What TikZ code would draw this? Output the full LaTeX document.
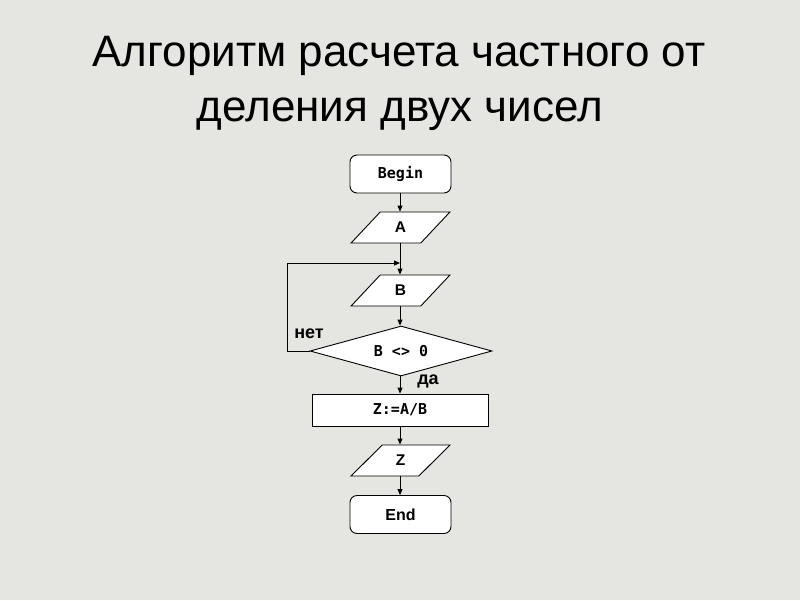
\documentclass[tikz,border=0pt]{standalone}
\usepackage{fontspec}
\setmainfont{Liberation Sans}
\setmonofont{DejaVu Sans Mono}
\usetikzlibrary{shapes.geometric,arrows.meta}
\definecolor{paper}{RGB}{229,229,225}
\tikzset{
  x=1pt,y=-1pt,
  box/.style={draw=black,line width=0.9pt,fill=white,minimum width=101pt,minimum height=38pt,inner sep=0pt,rounded corners=7pt},
  para/.style={draw=black,line width=0.9pt,fill=white,trapezium,trapezium left angle=53,trapezium right angle=127,minimum width=99pt,minimum height=31pt,trapezium stretches=true,inner sep=0pt},
  proc/.style={draw=black,line width=0.9pt,fill=white,minimum width=176pt,minimum height=32pt,inner sep=0pt},
  dec/.style={draw=black,line width=0.9pt,fill=white,diamond,aspect=3.64,minimum width=182pt,minimum height=50pt,inner sep=0pt},
  conn/.style={draw=black,line width=0.9pt,-{Triangle[length=6pt,width=5pt]}},
  mono/.style={font=\fontsize{15}{17}\selectfont\bfseries\ttfamily},
  sans/.style={font=\fontsize{15.5}{17}\selectfont\bfseries},
  lab/.style={font=\fontsize{18}{20}\selectfont\bfseries},
  ttl/.style={font=\fontsize{44}{55}\selectfont,align=center}
}
\begin{document}
\begin{tikzpicture}
\fill[paper] (0,0) rectangle (800,600);
\useasboundingbox (0,0) rectangle (800,600);
\node[ttl,anchor=base] (t1) at (399,66) {Алгоритм расчета частного от};
\node[ttl,anchor=base] (t2) at (400,121) {деления двух чисел};
\node[box,mono] (begin) at (400.5,174) {Begin};
\node[para,sans] (a) at (400.5,227.5) {A};
\node[para,sans] (b) at (400.5,290.5) {B};
\node[dec,mono] (d) at (401,351) {B <> 0};
\node[proc,mono] (p) at (400,410) {Z:=A/B};
\node[para,sans] (z) at (400.5,460.5) {Z};
\node[box,font=\fontsize{16}{18}\selectfont\bfseries] (end) at (400.5,514.5) {End};
\coordinate (j) at (400,263);
\coordinate (l) at (287,263);
\draw[conn] (begin.south -| 400,0) -- (a.north -| 400,0);
\draw[conn] (a.south -| 400,0) -- (b.north -| 400,0);
\draw[conn] (b.south -| 400,0) -- (d.north -| 400,0);
\draw[conn] (d.south -| 400,0) -- (p.north);
\draw[conn] (p.south) -- (z.north -| 400,0);
\draw[conn] (z.south -| 400,0) -- (end.north -| 400,0);
\draw[conn] (d.west) -- (d.west -| l) -- (l) -- (j);
\node[lab] (net) at (309,334) {нет};
\node[lab] (da) at (428,381) {да};
\end{tikzpicture}
\end{document}
